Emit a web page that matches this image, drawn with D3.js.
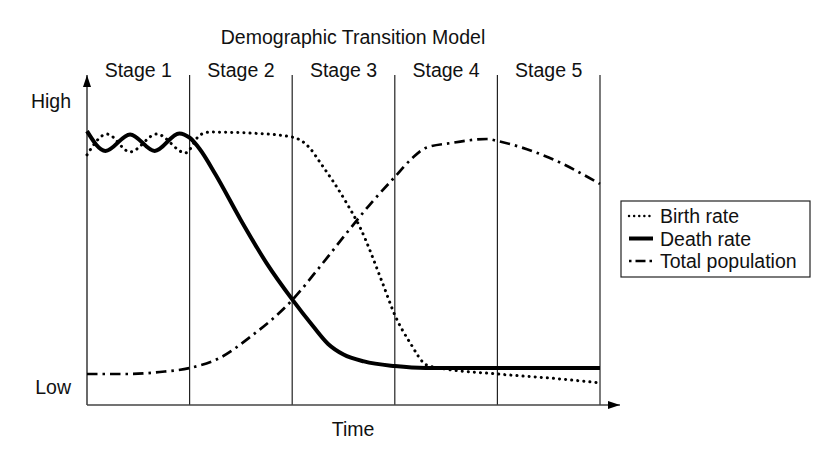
<!DOCTYPE html>
<html>
<head>
<meta charset="utf-8">
<script src="https://cdn.jsdelivr.net/npm/d3@7"></script>
<style>
  html, body { margin: 0; padding: 0; background: #fff; }
  svg { display: block; font-family: "Liberation Sans", Arial, Helvetica, sans-serif; }
</style>
</head>
<body>
<svg id="chart" width="835" height="458"></svg>
<script>
// ---- data ----
const title = "Demographic Transition Model";
const stageLabels = ["Stage 1", "Stage 2", "Stage 3", "Stage 4", "Stage 5"];
const stageBounds = [0, 1, 2, 3, 4, 5];
const yTickLabels = ["Low", "High"];
const yTickValues = [5.5, 92];
const xAxisLabel = "Time";

const birthT = [0, 0.195, 0.42, 0.68, 0.96, 1.1, 1.2, 1.59, 2.0, 2.17, 2.27, 2.53, 2.66, 2.88, 3.0, 3.15, 3.31, 3.44, 4.0, 4.61, 5.0];
const birthV = [75.8, 82.1, 76.7, 82.1, 76.4, 81.8, 82.7, 82.4, 81.2, 77.9, 73.6, 61.2, 53.9, 37, 27.3, 18.8, 12.1, 11.2, 9.4, 7.9, 6.7];

const deathT = [0, 0.18, 0.42, 0.66, 0.9, 1.0, 1.1, 1.25, 1.5, 1.75, 2.0, 2.2, 2.35, 2.5, 2.7, 3.0, 3.3, 5.0];
const deathV = [83, 77, 82, 77, 82.3, 81, 77.5, 70, 56, 43, 32, 24, 18.5, 15.3, 13.2, 11.8, 11.2, 11.2];

const popT = [0, 0.42, 0.71, 1.0, 1.29, 1.59, 2.0, 2.26, 2.53, 2.77, 3.0, 3.17, 3.3, 3.55, 3.9, 4.0, 4.5, 5.0];
const popV = [9.4, 9.4, 10.0, 11.2, 14.2, 20.6, 31.8, 41.5, 52.1, 61.2, 69.1, 74.8, 77.9, 79.4, 80.6, 80.0, 75.0, 67.0];

const seriesNames = ["Birth rate", "Death rate", "Total population"];

// ---- layout ----
const svg = d3.select("#chart");
const x = d3.scaleLinear().domain([0, 5]).range([87, 600]);
const y = d3.scaleLinear().domain([0, 100]).range([405, 75]);
const fontSize = 19.5;

const styles = [
  { width: 3, dash: "0.1,6", cap: "round" },
  { width: 4, dash: null, cap: "butt" },
  { width: 2.7, dash: "10.5,5,2.5,5", cap: "butt" }
];

const defs = svg.append("defs");
defs.append("marker").attr("id", "arrow").attr("viewBox", "0 0 12 8")
  .attr("refX", 12).attr("refY", 4).attr("markerWidth", 12).attr("markerHeight", 8)
  .attr("markerUnits", "userSpaceOnUse").attr("orient", "auto")
  .append("path").attr("d", "M0,0 L12,4 L0,8 Z").attr("fill", "#000");

// title
svg.append("text").attr("x", 353).attr("y", 44).attr("text-anchor", "middle")
  .attr("font-size", fontSize).attr("fill", "#111").text(title);

// stage labels
svg.append("g").selectAll("text").data(stageLabels).join("text")
  .attr("x", (d, i) => x(i + 0.5)).attr("y", 77).attr("text-anchor", "middle")
  .attr("font-size", fontSize).attr("fill", "#111").text(d => d);

// stage dividers
svg.append("g").selectAll("line").data(stageBounds.slice(1)).join("line")
  .attr("x1", d => x(d)).attr("x2", d => x(d))
  .attr("y1", y(100)).attr("y2", y(0))
  .attr("stroke", "#222").attr("stroke-width", 1.2);

// y axis (labels via d3 axis)
const yAxis = d3.axisLeft(y).tickValues(yTickValues)
  .tickFormat((d, i) => yTickLabels[i]).tickSize(0).tickPadding(16);
const gy = svg.append("g").attr("transform", `translate(${x(0)},0)`).call(yAxis);
gy.select(".domain").remove();
gy.selectAll("text").attr("font-size", fontSize).attr("fill", "#111")
  .attr("font-family", "Liberation Sans, Arial, sans-serif");

// axis lines with arrows
svg.append("line").attr("x1", x(0)).attr("x2", x(0)).attr("y1", y(0)).attr("y2", y(100))
  .attr("stroke", "#444").attr("stroke-width", 1.6).attr("marker-end", "url(#arrow)");
svg.append("line").attr("x1", x(0)).attr("x2", x(5) + 20).attr("y1", y(0)).attr("y2", y(0))
  .attr("stroke", "#444").attr("stroke-width", 1.6).attr("marker-end", "url(#arrow)");

// x axis label
svg.append("text").attr("x", 353).attr("y", 436).attr("text-anchor", "middle")
  .attr("font-size", fontSize).attr("fill", "#111").text(xAxisLabel);

// series
const line = d3.line().x(d => x(d[0])).y(d => y(d[1])).curve(d3.curveMonotoneX);
const series = [
  d3.zip(birthT, birthV),
  d3.zip(deathT, deathV),
  d3.zip(popT, popV)
];
const drawOrder = [2, 0, 1];
drawOrder.forEach(i => {
  const s = styles[i];
  svg.append("path").datum(series[i]).attr("d", line)
    .attr("fill", "none").attr("stroke", "#000")
    .attr("stroke-width", s.width)
    .attr("stroke-dasharray", s.dash)
    .attr("stroke-linecap", s.cap)
    .attr("stroke-linejoin", "round");
});

// legend
const lg = svg.append("g");
lg.append("rect").attr("x", 621).attr("y", 201).attr("width", 189).attr("height", 76)
  .attr("fill", "#fff").attr("stroke", "#222").attr("stroke-width", 1.2);
seriesNames.forEach((name, i) => {
  const cy = 216 + i * 22.5;
  const s = styles[i];
  lg.append("line").attr("x1", 629).attr("x2", 653).attr("y1", cy).attr("y2", cy)
    .attr("stroke", "#000").attr("stroke-width", i === 1 ? 4 : 2.4)
    .attr("stroke-dasharray", i === 0 ? "0.1,5" : (i === 2 ? "2.5,4,10,4,2.5,20" : null))
    .attr("stroke-linecap", s.cap);
  lg.append("text").attr("x", 660).attr("y", cy + 7).attr("font-size", fontSize)
    .attr("fill", "#111").text(name);
});
</script>
</body>
</html>
